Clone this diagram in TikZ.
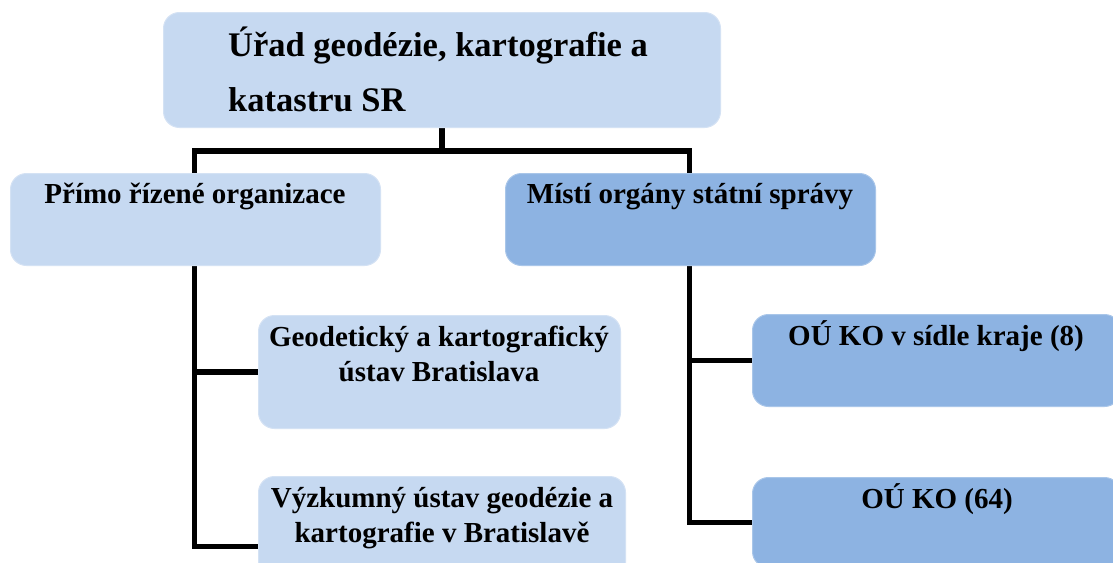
\documentclass[tikz,border=0pt]{standalone}
\usepackage{fontspec}
\setmainfont{Liberation Serif}
\usetikzlibrary{backgrounds}
\definecolor{lightbox}{RGB}{198,217,241}
\definecolor{darkbox}{RGB}{141,179,226}
\begin{document}
\begin{tikzpicture}[x=1pt,y=-1pt,
  box/.style={rectangle, rounded corners=16pt, inner sep=0pt, anchor=north west,
    draw=#1!75!white, line width=1pt, fill=#1},
  conn/.style={draw=black, line width=5.2pt, line join=miter, line cap=rect},
  txt/.style={inner sep=0pt, font=\fontsize{29}{34.5}\selectfont\bfseries, align=center, anchor=base},
  bigtxt/.style={inner sep=0pt, font=\fontsize{34.5}{55}\selectfont\bfseries, align=left, anchor=base west}]
\path[use as bounding box, clip] (0,0) rectangle (1113,562);
% boxes
\node[box=lightbox, minimum width=557pt, minimum height=115pt] (top) at (163,12) {};
\node[box=lightbox, minimum width=370pt, minimum height=92pt] (lb) at (10,173) {};
\node[box=darkbox, minimum width=370pt, minimum height=92pt] (rb) at (505,173) {};
\node[box=lightbox, minimum width=362pt, minimum height=113pt] (geo) at (258,315) {};
\node[box=lightbox, minimum width=367pt, minimum height=140pt] (vyz) at (258,476) {};
\node[box=darkbox, minimum width=368pt, minimum height=92pt] (kraj) at (752,314) {};
\node[box=darkbox, minimum width=368pt, minimum height=90pt] (ko) at (752,477) {};
% texts (base anchor = baseline of the last line)
\node[bigtxt] (toptxt) at (228,111) {Úřad geodézie, kartografie a\\katastru SR};
\node[txt] (lbtxt) at (195,203) {Přímo řízené organizace};
\node[txt] (rbtxt) at (690,203) {Místí orgány státní správy};
\node[txt] (geotxt) at (439,381) {Geodetický a kartografický\\ústav Bratislava};
\node[txt] (vyztxt) at (442,542) {Výzkumný ústav geodézie a\\kartografie v Bratislavě};
\node[txt] (krajtxt) at (936,345) {OÚ KO v sídle kraje (8)};
\node[txt] (kotxt) at (937,508) {OÚ KO (64)};
% connectors
\coordinate (jl) at (194.5,151);
\coordinate (jr) at (689.5,151);
\begin{scope}[on background layer]
\fill[white] (0,0) rectangle (1113,562);
\draw[conn] (top.south) -- (top.south |- jl);
\draw[conn] (vyz.west) -| (jl) -- (jr) |- (ko.west);
\draw[conn] (geo.west) -- (geo.west -| jl);
\draw[conn] (kraj.west) -- (kraj.west -| jr);
\end{scope}
\end{tikzpicture}
\end{document}
